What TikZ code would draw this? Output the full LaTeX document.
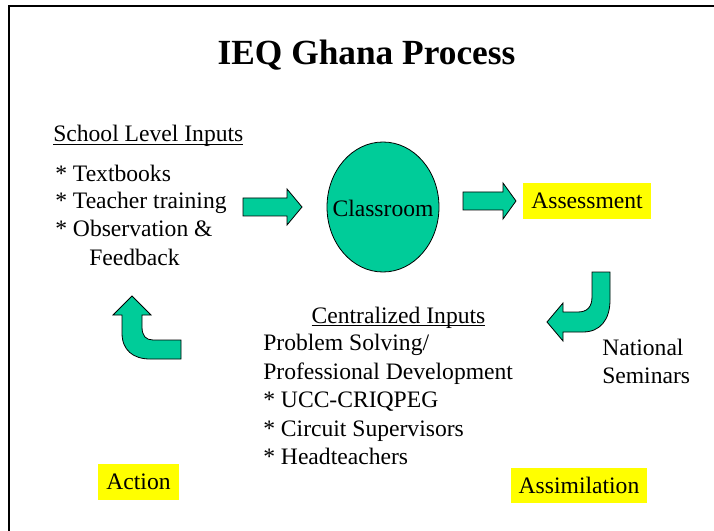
\documentclass[tikz,border=0pt]{standalone}
\usepackage{fontspec}
\setmainfont{Liberation Serif}
\usetikzlibrary{shapes.geometric}
\definecolor{ieqgreen}{RGB}{0,204,153}
\definecolor{ieqyellow}{RGB}{255,255,0}
\newcommand\ieqbody{\fontsize{17.7pt}{21pt}\selectfont}
\newcommand\iequl[1]{\setbox0\hbox{#1}\rlap{\rule[-2.6pt]{\wd0}{1.1pt}}\box0}
\begin{document}
\begin{tikzpicture}[x=0.75pt,y=-0.75pt,
  txt/.style={anchor=base west, inner sep=0pt, font=\ieqbody},
  blockarrow/.style={fill=ieqgreen, draw=black, line width=0.6pt, line join=miter},
  tag/.style={fill=ieqyellow, inner sep=0pt, font=\ieqbody}]
\useasboundingbox (0,0) rectangle (714,531);
\fill[white] (0,0) rectangle (714,531);
\draw[line width=1.5pt] (9,531) -- (9,6) -- (714,6);

% title
\node[anchor=base, inner sep=0pt, font=\fontsize{26.5pt}{30pt}\selectfont\bfseries] (title) at (366.5,65) {IEQ Ghana Process};

% school level inputs
\node[txt] (school) at (53,142) {\iequl{School Level Inputs}};
\node[txt] (s1) at (55,182) {* Textbooks};
\node[txt] (s2) at (55,209) {* Teacher training};
\node[txt] (s3) at (55,237) {* Observation \&};
\node[txt] (s4) at (89,265) {Feedback};

% classroom
\node[ellipse, draw=black, fill=ieqgreen, line width=0.6pt, minimum width=84pt, minimum height=97.5pt, inner sep=0pt] (class) at (383,207) {};
\node[inner sep=0pt, font=\ieqbody] (classtext) at (383,208) {Classroom};

% assessment
\node[tag, minimum width=96pt, minimum height=27pt] (assess) at (587,201) {Assessment};

% straight block arrows
\path[blockarrow] (243,198) -- (287,198) -- (287,189) -- (302,207) -- (287,225) -- (287,216) -- (243,216) -- cycle;
\path[blockarrow] (463,192) -- (503,192) -- (503,183) -- (516,201) -- (503,219) -- (503,210) -- (463,210) -- cycle;

% curved arrow right (down then left)
\path[blockarrow] (592,272) -- (610,272) -- (610,300)
  .. controls (610,320) and (600,332) .. (583,332) -- (563,332) -- (563,341) -- (547,322) -- (563,303) -- (563,312) -- (578,312)
  .. controls (587,312) and (592,307) .. (592,297) -- cycle;

% curved arrow left (down then up)
\path[blockarrow] (142,315) -- (151,315) -- (132,296) -- (113,315) -- (122,315) -- (122,333)
  .. controls (122,350) and (133,359) .. (150,359) -- (181,359) -- (181,340) -- (153,340)
  .. controls (146,340) and (142,336) .. (142,327) -- cycle;

% centralized inputs
\node[anchor=base, inner sep=0pt, font=\ieqbody] (central) at (398.5,323) {\iequl{Centralized Inputs}};
\node[txt] (c1) at (263,350) {Problem Solving/};
\node[txt] (c2) at (263,379) {Professional Development};
\node[txt] (c3) at (263,407) {* UCC-CRIQPEG};
\node[txt] (c4) at (263,436) {* Circuit Supervisors};
\node[txt] (c5) at (263,464) {* Headteachers};

% national seminars
\node[txt] (nat1) at (602,355) {National};
\node[txt] (nat2) at (602,383) {Seminars};

% action / assimilation
\node[tag, minimum width=60.75pt, minimum height=27pt] (action) at (138.5,482) {Action};
\node[tag, minimum width=102pt, minimum height=26.25pt] (assim) at (579,485.5) {Assimilation};
\end{tikzpicture}
\end{document}
